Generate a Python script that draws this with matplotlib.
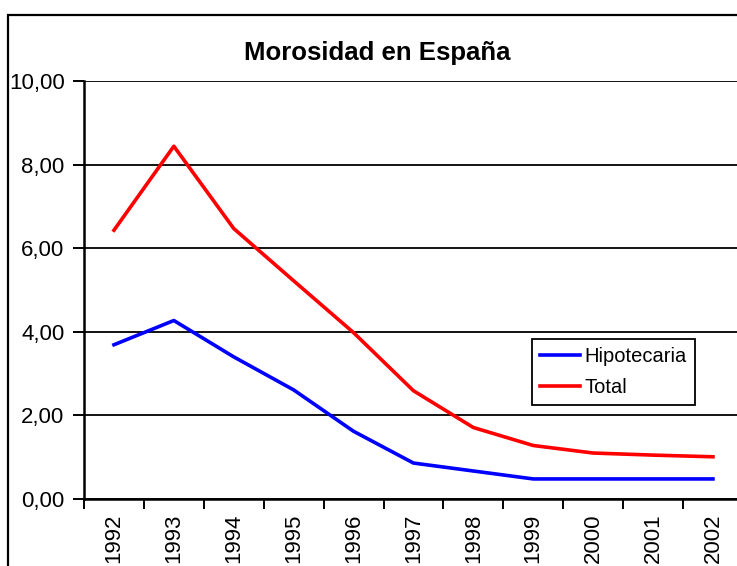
import matplotlib
matplotlib.use("Agg")
import matplotlib.pyplot as plt
from matplotlib.patches import Rectangle

years = ["1992", "1993", "1994", "1995", "1996", "1997", "1998", "1999", "2000", "2001", "2002"]
hipotecaria = [3.69, 4.27, 3.40, 2.61, 1.62, 0.86, 0.67, 0.48, 0.48, 0.48, 0.48]
total = [6.43, 8.44, 6.47, 5.22, 3.98, 2.59, 1.71, 1.28, 1.10, 1.05, 1.01]
yticks = [0, 2, 4, 6, 8, 10]
ytick_labels = ["0,00", "2,00", "4,00", "6,00", "8,00", "10,00"]

plt.rcParams['font.family'] = ['Liberation Sans', 'DejaVu Sans']

W, H = 737, 566
fig = plt.figure(figsize=(W / 100, H / 100), dpi=100)

# outer chart border (partially cropped)
fig.patches.append(Rectangle((8 / W, -0.1), 1.2, 1 - 15 / H + 0.1, transform=fig.transFigure,
                             fill=False, edgecolor='black', linewidth=1.6))

left, bottom_px, top_px = 84, 499, 81
step = 59.9
ax = fig.add_axes([left / W, (H - bottom_px) / H, 11 * step / W, (bottom_px - top_px) / H])

x = list(range(len(years)))
ax.plot(x, hipotecaria, color='#0000FF', linewidth=2.6, label='Hipotecaria', solid_joinstyle='round')
ax.plot(x, total, color='#FF0000', linewidth=2.6, label='Total', solid_joinstyle='round')

ax.set_xlim(-0.5, len(years) - 0.5)
ax.set_ylim(0, 10)
ax.set_xticks([i - 0.5 for i in range(len(years) + 1)])
ax.set_xticklabels([])
ax.set_xticks(x, minor=True)
ax.set_xticklabels(years, minor=True, rotation=90, fontsize=16)
ax.tick_params(axis='x', which='major', length=7, width=1.4, direction='out', color='black')
ax.tick_params(axis='x', which='minor', length=0, pad=10.5)
ax.set_yticks(yticks)
ax.set_yticklabels(ytick_labels, fontsize=16)
ax.tick_params(axis='y', length=8, width=1.4, direction='out', pad=6)

ax.yaxis.grid(True, color='black', linewidth=1.3)
ax.set_axisbelow(True)
for s in ['top', 'right']:
    ax.spines[s].set_visible(False)
for s in ['left', 'bottom']:
    ax.spines[s].set_linewidth(1.8)
    ax.spines[s].set_color('black')

fig.text(377 / W, 1 - 53 / H, "Morosidad en España", ha='center', va='center',
         fontsize=18.5, fontweight='bold')

leg = fig.legend(loc='upper left', bbox_to_anchor=(532 / W, 1 - 339 / H), fontsize=14.5,
                 frameon=True, fancybox=False, edgecolor='black', framealpha=1,
                 handlelength=2.0, handletextpad=0.2, borderpad=0.4, labelspacing=0.6,
                 borderaxespad=0)
leg.get_frame().set_linewidth(1.3)

fig.savefig("out.png", dpi=100)
